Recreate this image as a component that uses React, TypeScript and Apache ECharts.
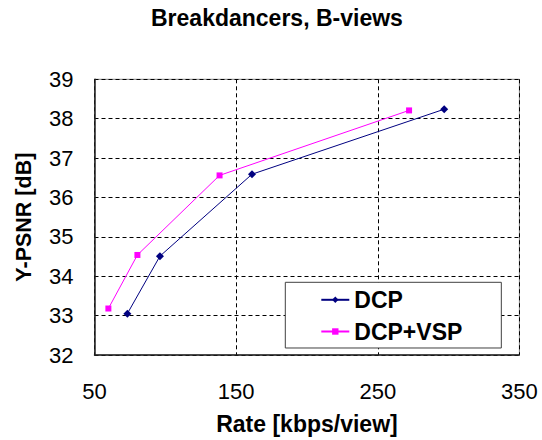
import React, { useEffect, useRef } from "react";
import * as echarts from "echarts";

const titleText = "Breakdancers, B-views";
const xAxisName = "Rate [kbps/view]";
const yAxisName = "Y-PSNR [dB]";
const seriesNames = ["DCP", "DCP+VSP"];
const dcpRate = [73.2, 96.2, 161.2, 296.9];
const dcpPsnr = [33.05, 34.51, 36.59, 38.24];
const vspRate = [59.8, 80.3, 138.3, 272.1];
const vspPsnr = [33.18, 34.54, 36.56, 38.21];
const xTicks = { min: 50, max: 350, interval: 100 };
const yTicks = { min: 32, max: 39, interval: 1 };

const FONT = "'Liberation Sans', Arial, sans-serif";

export default function App() {
  const ref = useRef<HTMLDivElement>(null);
  useEffect(() => {
    if (!ref.current) return;
    const chart = echarts.init(ref.current, null, { renderer: "svg" });
    const dcp = dcpRate.map((x, i) => [x, dcpPsnr[i]]);
    const vsp = vspRate.map((x, i) => [x, vspPsnr[i]]);
    chart.setOption({
      animation: false,
      backgroundColor: "#ffffff",
      title: {
        text: titleText,
        left: 151,
        top: 6,
        padding: 0,
        textStyle: { fontFamily: FONT, fontSize: 23, fontWeight: "bold", color: "#000" },
      },
      grid: {
        left: 94.5,
        right: 22.6,
        top: 79.3,
        bottom: 83.3,
        show: true,
        borderColor: "#808080",
        borderWidth: 1,
        backgroundColor: "#fff",
      },
      legend: {
        orient: "vertical",
        left: 285.3,
        top: 282.3,
        padding: [6, 39, 5, 35],
        itemGap: 8.7,
        itemWidth: 28,
        itemHeight: 8,
        backgroundColor: "#fff",
        borderColor: "#404040",
        borderWidth: 1,
        borderRadius: 0,
        textStyle: { fontFamily: FONT, fontSize: 23, fontWeight: "bold", color: "#000" },
        data: seriesNames,
      },
      xAxis: {
        type: "value",
        min: xTicks.min,
        max: xTicks.max,
        interval: xTicks.interval,
        name: xAxisName,
        nameLocation: "middle",
        nameGap: 57,
        nameTextStyle: { fontFamily: FONT, fontSize: 23, fontWeight: "bold", color: "#000" },
        axisLine: { show: true, onZero: false, lineStyle: { color: "#202020", width: 1.5 } },
        axisTick: { show: false },
        axisLabel: { margin: 25, fontFamily: FONT, fontSize: 22, color: "#000" },
        splitLine: { show: true, lineStyle: { color: "#000", width: 1, type: [4, 3] } },
      },
      yAxis: {
        type: "value",
        min: yTicks.min,
        max: yTicks.max,
        interval: yTicks.interval,
        name: yAxisName,
        nameLocation: "middle",
        nameGap: 60,
        nameTextStyle: { fontFamily: FONT, fontSize: 21.5, fontWeight: "bold", color: "#000" },
        axisLine: { show: true, onZero: false, lineStyle: { color: "#202020", width: 1.5 } },
        axisTick: { show: false },
        axisLabel: { margin: 21, fontFamily: FONT, fontSize: 22, color: "#000" },
        splitLine: { show: true, lineStyle: { color: "#000", width: 1, type: [4, 3] } },
      },
      series: [
        {
          name: seriesNames[0],
          type: "line",
          data: dcp,
          symbol: "diamond",
          symbolSize: 8,
          itemStyle: { color: "#000080" },
          lineStyle: { color: "#000080", width: 1 },
        },
        {
          name: seriesNames[1],
          type: "line",
          data: vsp,
          symbol: "rect",
          symbolSize: 6,
          itemStyle: { color: "#FF00FF" },
          lineStyle: { color: "#FF00FF", width: 1 },
        },
      ],
    });
    return () => chart.dispose();
  }, []);
  return (
    <div
      ref={ref}
      style={{ position: "fixed", left: 0, top: 0, width: 542, height: 440, background: "#fff" }}
    />
  );
}
